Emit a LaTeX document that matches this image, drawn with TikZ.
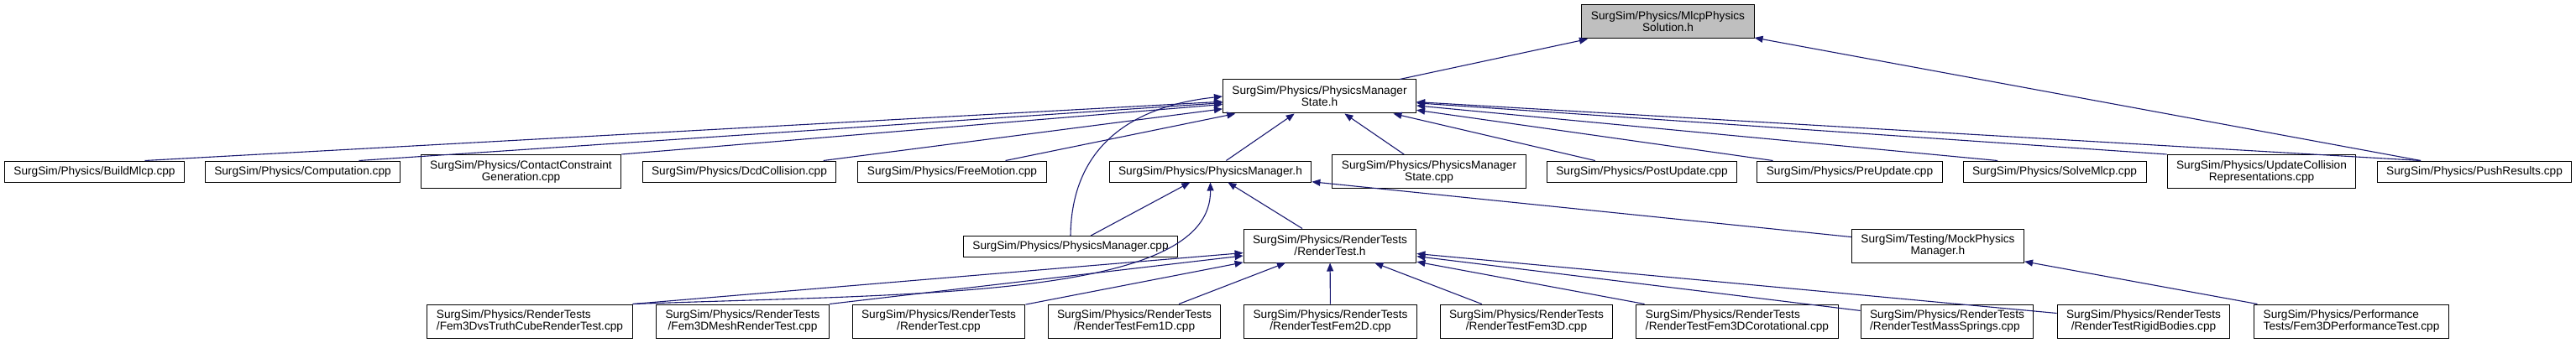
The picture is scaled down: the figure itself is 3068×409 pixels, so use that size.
\documentclass[tikz,border=0pt]{standalone}
\usepackage{fontspec}
\setmainfont{Liberation Sans}
\usepackage{tikz}
\usetikzlibrary{arrows.meta}
\definecolor{rootgray}{HTML}{BFBFBF}
\definecolor{edgeblue}{HTML}{191970}

\begin{document}
\begin{tikzpicture}[
    x=1pt, y=-1pt,
    font=\fontsize{13.67pt}{14pt}\selectfont,
    box/.style={draw=black, line width=1pt, fill=white, align=center, inner xsep=11pt, inner ysep=2pt, minimum height=25pt},
    box2/.style={box, minimum height=40pt},
    boxl/.style={box2, align=left},
    root/.style={box2, fill=rootgray},
    dep/.style={-{Triangle[length=10pt,width=8pt]}, line width=1.1pt, edgeblue},
  ]
    \useasboundingbox (0,0) rectangle (3068,409);

    \node[root] (solution) at (1986.5,26) {SurgSim/Physics/MlcpPhysics\\Solution.h};
    \node[box2] (mgrstate) at (1571.5,115) {SurgSim/Physics/PhysicsManager\\State.h};

    \node[box] (buildmlcp) at (112.5,204.5) {SurgSim/Physics/BuildMlcp.cpp};
    \node[box] (computation) at (360.5,204.5) {SurgSim/Physics/Computation.cpp};
    \node[box2] (contact) at (620.5,204.5) {SurgSim/Physics/ContactConstraint\\Generation.cpp};
    \node[box] (dcd) at (880.5,204.5) {SurgSim/Physics/DcdCollision.cpp};
    \node[box] (freemotion) at (1134,204.5) {SurgSim/Physics/FreeMotion.cpp};
    \node[box] (mgrh) at (1441.5,204.5) {SurgSim/Physics/PhysicsManager.h};
    \node[box2] (mgrstatecpp) at (1702,204.5) {SurgSim/Physics/PhysicsManager\\State.cpp};
    \node[box] (postupdate) at (1955.5,204.5) {SurgSim/Physics/PostUpdate.cpp};
    \node[box] (preupdate) at (2203,204.5) {SurgSim/Physics/PreUpdate.cpp};
    \node[box] (solvemlcp) at (2447,204.5) {SurgSim/Physics/SolveMlcp.cpp};
    \node[box2] (updatecoll) at (2693.5,204.5) {SurgSim/Physics/UpdateCollision\\Representations.cpp};
    \node[box] (pushresults) at (2947,204.5) {SurgSim/Physics/PushResults.cpp};

    \node[box] (mgrcpp) at (1275,294) {SurgSim/Physics/PhysicsManager.cpp};
    \node[box2] (rendertesth) at (1584,293) {SurgSim/Physics/RenderTests\\/RenderTest.h};
    \node[box2] (mockmgr) at (2308,293) {SurgSim/Testing/MockPhysics\\Manager.h};

    \node[boxl] (truthcube) at (631,383) {SurgSim/Physics/RenderTests\\/Fem3DvsTruthCubeRenderTest.cpp};
    \node[box2] (mesh) at (884.5,383) {SurgSim/Physics/RenderTests\\/Fem3DMeshRenderTest.cpp};
    \node[box2] (rendertest) at (1118,383) {SurgSim/Physics/RenderTests\\/RenderTest.cpp};
    \node[box2] (femoned) at (1351,383) {SurgSim/Physics/RenderTests\\/RenderTestFem1D.cpp};
    \node[box2] (femtwod) at (1584.5,383) {SurgSim/Physics/RenderTests\\/RenderTestFem2D.cpp};
    \node[box2] (femthreed) at (1818,383) {SurgSim/Physics/RenderTests\\/RenderTestFem3D.cpp};
    \node[boxl] (corot) at (2069,383) {SurgSim/Physics/RenderTests\\/RenderTestFem3DCorotational.cpp};
    \node[boxl] (springs) at (2319,383) {SurgSim/Physics/RenderTests\\/RenderTestMassSprings.cpp};
    \node[box2] (rigid) at (2553,383) {SurgSim/Physics/RenderTests\\/RenderTestRigidBodies.cpp};
    \node[boxl] (perf) at (2800.5,383) {SurgSim/Physics/Performance\\Tests/Fem3DPerformanceTest.cpp};

    \draw[dep] (mgrstate) -- (solution);
    \draw[dep] ([xshift=-64pt]pushresults.north) -- (solution);

    \draw[dep] ([xshift=60pt]buildmlcp.north) -- (mgrstate);
    \draw[dep] ([xshift=67pt]computation.north) -- (mgrstate);
    \draw[dep] (contact.north east) -- (mgrstate);
    \draw[dep] (dcd) -- (mgrstate);
    \draw[dep] (freemotion) -- (mgrstate);
    \draw[dep] (mgrh) -- (mgrstate);
    \draw[dep] (mgrstatecpp) -- (mgrstate);
    \draw[dep] (postupdate) -- (mgrstate);
    \draw[dep] (preupdate) -- (mgrstate);
    \draw[dep] ([xshift=-68pt]solvemlcp.north) -- (mgrstate);
    \draw[dep] (updatecoll.north west) -- (mgrstate);
    \draw[dep] ([xshift=-64pt]pushresults.north) -- (mgrstate);
    \draw[dep] (mgrcpp.north) .. controls (1276,185) and (1335,128) .. (mgrstate.west);

    \draw[dep] (mgrcpp) -- (mgrh);
    \draw[dep] (rendertesth) -- (mgrh);
    \draw[dep] (mockmgr) -- (mgrh);
    \draw[dep] (truthcube.north east) .. controls (1100,350) and (1443,355) .. (mgrh.south);

    \draw[dep] (truthcube.north east) -- (rendertesth);
    \draw[dep] (mesh.north east) -- (rendertesth);
    \draw[dep] (rendertest) -- (rendertesth);
    \draw[dep] (femoned) -- (rendertesth);
    \draw[dep] (femtwod) -- (rendertesth);
    \draw[dep] (femthreed) -- (rendertesth);
    \draw[dep] (corot) -- (rendertesth);
    \draw[dep] (springs) -- (rendertesth);
    \draw[dep] (rigid) -- (rendertesth);

    \draw[dep] (perf) -- (mockmgr);
  \end{tikzpicture}
\end{document}
